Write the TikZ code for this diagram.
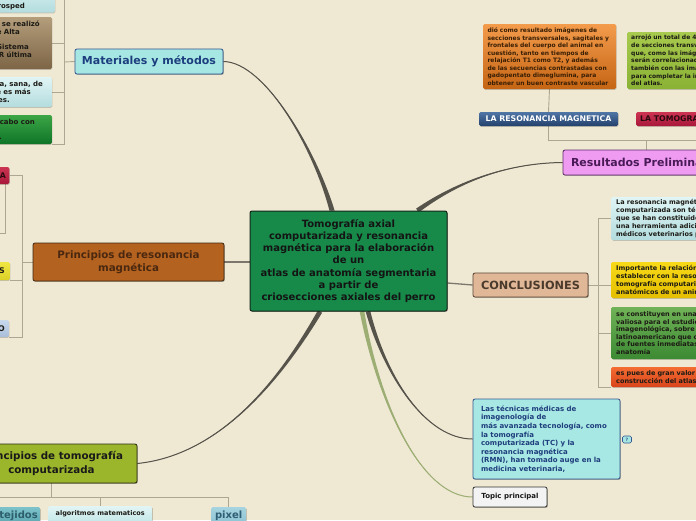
\documentclass[tikz,border=0pt]{standalone}
\usepackage{fontspec}
\setmainfont{DejaVu Sans}
\usetikzlibrary{shadows,calc,backgrounds}
\definecolor{bg}{HTML}{EFE8D3}
\definecolor{cn}{HTML}{56534B}
\definecolor{cnG}{HTML}{9CAE74}
\definecolor{brkC}{HTML}{ADA692}
\definecolor{lnkC}{HTML}{7B776C}
\definecolor{cenF}{HTML}{178A4A}
\definecolor{cenB}{HTML}{14251A}
\definecolor{matF}{HTML}{A7E7E3}
\definecolor{matB}{HTML}{2E538C}
\definecolor{matT}{HTML}{1D3E7E}
\definecolor{prmF}{HTML}{B4621F}
\definecolor{prmB}{HTML}{3D2812}
\definecolor{prmT}{HTML}{4A2810}
\definecolor{ptcF}{HTML}{9BB62B}
\definecolor{ptcB}{HTML}{2B2B12}
\definecolor{resF}{HTML}{EE9BF1}
\definecolor{resB}{HTML}{5C2A68}
\definecolor{resT}{HTML}{4A1A57}
\definecolor{conF}{HTML}{E1B897}
\definecolor{conB}{HTML}{5A4534}
\definecolor{conT}{HTML}{4A3A2C}
\definecolor{tecF}{HTML}{A8E8E4}
\definecolor{tecB}{HTML}{35568E}
\definecolor{tecT}{HTML}{1E3D7C}
\definecolor{topF}{HTML}{F3F3F3}
\definecolor{topB}{HTML}{333333}
\definecolor{orT}{HTML}{F39C4C}
\definecolor{orB}{HTML}{C56514}
\definecolor{orX}{HTML}{3A1F05}
\definecolor{grT}{HTML}{A8CA4E}
\definecolor{grB}{HTML}{8AB234}
\definecolor{lrT}{HTML}{5076A6}
\definecolor{lrB}{HTML}{23406C}
\definecolor{crT}{HTML}{CC3452}
\definecolor{crB}{HTML}{A8183A}
\definecolor{crX}{HTML}{2A0A10}
\definecolor{cyT}{HTML}{E0F5F5}
\definecolor{cyB}{HTML}{B3DCDE}
\definecolor{yeT}{HTML}{F8DA18}
\definecolor{yeB}{HTML}{E4BE00}
\definecolor{gnT}{HTML}{70B257}
\definecolor{gnB}{HTML}{3C8A33}
\definecolor{rdT}{HTML}{F46C32}
\definecolor{rdB}{HTML}{D8441A}
\definecolor{bnT}{HTML}{B39D7B}
\definecolor{bnB}{HTML}{7D6545}
\definecolor{lgT}{HTML}{3CA545}
\definecolor{lgB}{HTML}{0E7528}
\definecolor{ysT}{HTML}{F0E642}
\definecolor{ysB}{HTML}{DCD028}
\definecolor{boT}{HTML}{C8D9EC}
\definecolor{boB}{HTML}{A8BDD9}
\definecolor{tjT}{HTML}{7CC2CA}
\definecolor{tjB}{HTML}{5AA6B0}
\definecolor{tjX}{HTML}{2D5E6C}
\definecolor{pxT}{HTML}{A6D4E0}
\definecolor{pxB}{HTML}{8CC2D2}
\definecolor{pxX}{HTML}{2E5E74}
\definecolor{alT}{HTML}{E2F5F5}
\definecolor{alB}{HTML}{C4E7E8}
\definecolor{dk}{HTML}{1C1A14}
\newcommand{\fz}[2]{\fontsize{#1}{#2}\selectfont\bfseries}
\newcommand{\rpad}[1]{\hspace*{#1}\mbox{}}
\tikzset{
  box/.style={rounded corners=2pt, inner sep=0pt, line width=0.8pt,
    drop shadow={shadow xshift=0.8pt, shadow yshift=-0.9pt, opacity=0.28, fill=black}},
  sbox/.style={rounded corners=1.5pt, inner sep=0pt,
    drop shadow={shadow xshift=0.6pt, shadow yshift=-0.8pt, opacity=0.18, fill=black}},
  brk/.style={draw=brkC, line width=0.9pt},
  lnk/.style={draw=lnkC, line width=1.3pt},
}
\begin{document}
\begin{tikzpicture}[x=1pt,y=-1pt]
\useasboundingbox (0,0) rectangle (696,520);

% ---------- main nodes ----------
\node[box, draw=cenB, fill=cenF, line width=1pt, minimum width=197pt, minimum height=100pt,
  align=center, font={\fz{10}{12.2}}, text=black!92] (central) at (348.5,261)
  {Tomografía axial\\computarizada y resonancia\\magnética para la elaboración\hspace*{5pt}\\de un\\atlas de anatomía segmentaria\\a partir de\\criosecciones axiales del perro};

\node[box, draw=matB, fill=matF, text=matT, minimum width=148pt, minimum height=25pt,
  font={\fz{11}{13}}] (mat) at (149,61.5) {Materiales y métodos};

\node[box, draw=prmB, fill=prmF, text=prmT, minimum width=191pt, minimum height=38pt,
  align=center, font={\fz{10.3}{13.3}}] (prm) at (128.5,262) {Principios de resonancia\\magnética};

\node[box, draw=ptcB, fill=ptcF, text=black!90, minimum width=171pt, minimum height=39pt,
  align=center, font={\fz{10.3}{14}}] (ptc) at (51.5,463.5) {Principios de tomografía\\computarizada};

\node[box, draw=resB, fill=resF, text=resT, minimum width=167pt, minimum height=25pt,
  font={\fz{11}{13}}] (resP) at (646.5,162.5) {Resultados Preliminares};

\node[box, draw=conB, fill=conF, text=conT, minimum width=115pt, minimum height=24pt,
  font={\fz{11.3}{13}}] (conc) at (530.5,285) {CONCLUSIONES};

\node[box, draw=tecB, fill=tecF, text=tecT, minimum width=147pt, minimum height=80pt,
  align=left, text width=131pt, font={\fz{7}{8.6}}] (tec) at (546.5,439)
  {Las técnicas médicas de\\imagenología de\\más avanzada tecnología, como\\la tomografía\\computarizada (TC) y la\\resonancia magnética\\(RMN), han tomado auge en la\\medicina veterinaria,};

\node[draw=tecB, fill=tecF, rounded corners=1.5pt, line width=0.6pt, minimum width=9pt,
  minimum height=7pt, inner sep=0pt, font={\fz{4.5}{5}}, text=tecB] (ico) at (627,439.5) {?};

\node[box, draw=topB, fill=topF, minimum width=74pt, minimum height=20pt,
  font={\fz{7}{8}}, text=black!90] (topP) at (510,497) {Topic principal};

% ---------- Resultados children ----------
\node[sbox, top color=orT, bottom color=orB, minimum width=133pt, minimum height=65pt,
  text width=124pt, align=left, font={\fz{6}{7.5}}, text=orX] (orng) at (549.5,56.5)
  {dió como resultado imágenes de\\secciones transversales, sagitales y\\frontales del cuerpo del animal en\\cuestión, tanto en tiempos de\\relajación T1 como T2, y además\\de las secuencias contrastadas con\\gadopentato dimeglumina, para\\obtener un buen contraste vascular};

\node[sbox, top color=grT, bottom color=grB, anchor=west, minimum height=57pt,
  inner xsep=4pt, text width=140pt, align=left, font={\fz{6}{7.67}}, text=dk] (grnR) at (627,60.5)
  {arrojó un total de 4\\de secciones transv\\que, como las imág\\serán correlacionad\\también con las ima\\para completar la in\\del atlas.};

\node[sbox, top color=lrT, bottom color=lrB, minimum width=139pt, minimum height=14pt,
  text=white, font={\fz{7.8}{9}}] (laRes) at (548.5,119) {LA RESONANCIA MAGNETICA};

\node[sbox, top color=crT, bottom color=crB, anchor=west, minimum height=14pt,
  inner xsep=4pt, text width=100pt, align=left, text=crX, font={\fz{7.8}{9}}] (laTom) at (636,119) {LA TOMOGRA};

% ---------- Conclusiones children ----------
\node[sbox, top color=cyT, bottom color=cyB, anchor=west, minimum height=43pt,
  inner xsep=5pt, text width=130pt, align=left, font={\fz{6.5}{7.9}}, text=dk] (cyC) at (611,218.5)
  {La resonancia magnét\\computarizada son téc\\que se han constituido\\una herramienta adici\\médicos veterinarios p};

\node[sbox, top color=yeT, bottom color=yeB, anchor=west, minimum height=36pt,
  inner xsep=5pt, text width=130pt, align=left, font={\fz{6.5}{8.2}}, text=dk] (yeC) at (611,280)
  {Importante la relación\\establecer con la reso\\tomografía computariz\\anatómicos de un anim};

\node[sbox, top color=gnT, bottom color=gnB, anchor=west, minimum height=52pt,
  inner xsep=5pt, text width=130pt, align=left, font={\fz{6.5}{7.6}}, text=dk] (gnC) at (611,333)
  {se constituyen en una\\valiosa para el estudio\\imagenológica, sobre t\\latinoamericano que c\\de fuentes inmediatas\\anatomía};

\node[sbox, top color=rdT, bottom color=rdB, anchor=west, minimum height=20pt,
  inner xsep=5pt, text width=130pt, align=left, font={\fz{6.5}{8.6}}, text=dk] (rdC) at (611,377)
  {es pues de gran valor\\construcción del atlas.};

% ---------- Materiales children (cut at left edge) ----------
\node[sbox, top color=cyT, bottom color=cyB, anchor=south east, inner xsep=4pt, inner ysep=2.6pt,
  text width=100pt, align=right, font={\fz{7}{8.3}}, text=dk] (topc) at (55,12.7)
  {\mbox{}\\\mbox{}\\\mbox{}\\rosped\rpad{26pt}};

\node[sbox, top color=bnT, bottom color=bnB, anchor=east, minimum height=52pt, inner xsep=4pt,
  text width=100pt, align=right, font={\fz{7}{7.8}}, text=dk] (brn) at (52,43)
  {a se realizó\rpad{8pt}\\e Alta\rpad{28pt}\\\mbox{}\\Sistema\rpad{19pt}\\R última\rpad{16pt}\\\mbox{}};

\node[sbox, top color=cyT, bottom color=cyB, anchor=east, minimum height=30pt, inner xsep=4pt,
  text width=100pt, align=right, font={\fz{7}{8.3}}, text=dk] (cy2) at (52,92)
  {a, sana, de\rpad{5pt}\\e es más\rpad{17pt}\\es.\rpad{38pt}};

\node[sbox, top color=lgT, bottom color=lgB, anchor=east, minimum height=29pt, inner xsep=4pt,
  text width=100pt, align=right, font={\fz{7}{7.7}}, text=dk] (lg) at (52,129.5)
  {cabo con\rpad{13pt}\\\mbox{}\\.\rpad{46pt}};

% ---------- Principios RM children ----------
\node[sbox, top color=crT, bottom color=crB, anchor=east, minimum height=17pt, inner xsep=3.5pt,
  text width=50pt, align=right, font={\fz{7.8}{9}}, text=crX] (redA) at (9.5,175.5) {A};
\node[sbox, top color=ysT, bottom color=ysB, anchor=east, minimum height=18pt, inner xsep=5pt,
  text width=50pt, align=right, font={\fz{7.8}{9}}, text=dk] (yelS) at (10,271) {S};
\node[sbox, top color=boT, bottom color=boB, anchor=east, minimum height=17pt, inner xsep=4pt,
  text width=50pt, align=right, font={\fz{7.8}{9}}, text=dk] (bluO) at (9,328.5) {O};

% ---------- Principios TC children ----------
\node[sbox, top color=tjT, bottom color=tjB, anchor=north east, minimum height=18pt, inner xsep=2.5pt,
  font={\fz{10}{12}}, text=tjX] (tej) at (40.5,507) {tejidos};
\node[sbox, top color=alT, bottom color=alB, anchor=north west, minimum width=104pt, minimum height=16pt,
  font={\fz{6.5}{8}}, text=dk] (alg) at (48,506) {algoritmos matematicos};
\node[sbox, top color=pxT, bottom color=pxB, anchor=north west, minimum width=35pt, minimum height=18pt,
  font={\fz{10}{12}}, text=pxX] (pix) at (211,507) {pixel};

% ---------- connectors on background ----------
\begin{pgfonlayer}{background}
\fill[bg] (0,0) rectangle (696,520);

% brackets
\coordinate (bM) at (64.5,62);
\draw[brk] (mat.west) -- (bM);
\draw[brk] (topc.east) -| (bM);
\draw[brk] (brn.east) -| (bM);
\draw[brk] (cy2.east) -| (bM);
\draw[brk] (lg.south east) -| (bM);

\coordinate (bL) at (22,262);
\draw[brk] (prm.west) -- (bL);
\draw[brk] (redA.east) -| (bL);
\draw[brk] (yelS.south east) -| (bL);
\draw[brk] (bluO.south east) -| (bL);
\draw[brk] ([xshift=-4.5pt]redA.south east) -- ++(0,49) -- ++(-12,0);

\coordinate (hT) at (-5,497);
\draw[brk] (ptc.south) -- (ptc.south |- hT);
\draw[brk] (hT) -| (pix.north);
\draw[brk] (alg.north) -- (alg.north |- hT);

\coordinate (hR) at (720,140);
\draw[brk] (orng.south) -- (laRes.north);
\draw[brk] (laRes.south) |- (hR);
\draw[brk] (resP.north) -- (resP.north |- hR);

\coordinate (bC) at (598,285);
\draw[brk] (conc.east) -- (conc.east -| yeC.west);
\draw[brk] (cyC.west) -| (bC);
\draw[brk] (gnC.west) -| (bC);
\draw[brk] (rdC.south west) -| (bC);

% straight links
\draw[lnk] (prm.east) -- (central.west |- prm.east);
\draw[lnk] ([yshift=-22pt]central.east) -- (conc.west);

% tapered curves
\coordinate (mS) at ([xshift=-16.5pt]central.north);
\coordinate (m1) at (315,150); \coordinate (m2) at (265,62);
\fill[cn] ($(mS)+(-2.6,0)$) .. controls ($(m1)+(-1.2,0)$) and (m2) .. (mat.east)
  .. controls (m2) and ($(m1)+(1.2,0)$) .. ($(mS)+(2.6,0)$) -- cycle;
\draw[cn, line width=1pt] (mS) .. controls (m1) and (m2) .. (mat.east);

\coordinate (rS) at ([xshift=-30pt]central.north east);
\coordinate (r1) at (460,180); \coordinate (r2) at (510,163);
\fill[cn] ($(rS)+(-1.35,-1.87)$) .. controls ($(r1)+(-0.6,-0.8)$) and (r2) .. (resP.west)
  .. controls (r2) and ($(r1)+(0.6,0.8)$) .. ($(rS)+(1.35,1.87)$) -- cycle;
\draw[cn, line width=1pt] (rS) .. controls (r1) and (r2) .. (resP.west);

\coordinate (tS) at ([xshift=-28.5pt]central.south);
\coordinate (t1) at (280,380); \coordinate (t2) at (220,455);
\fill[cn] ($(tS)+(-2.08,-1.2)$) .. controls ($(t1)+(-0.9,-0.5)$) and (t2) .. (ptc.east)
  .. controls (t2) and ($(t1)+(0.9,0.5)$) .. ($(tS)+(2.08,1.2)$) -- cycle;
\draw[cn, line width=1pt] (tS) .. controls (t1) and (t2) .. (ptc.east);

\coordinate (gS) at ([xshift=13.5pt]central.south);
\coordinate (g1) at (378,400); \coordinate (g2) at (420,497);
\fill[cnG] ($(gS)+(-2.26,0.41)$) .. controls ($(g1)+(-1,0.2)$) and (g2) .. (topP.west)
  .. controls (g2) and ($(g1)+(1,-0.2)$) .. ($(gS)+(2.26,-0.41)$) -- cycle;
\draw[cnG, line width=1pt] (gS) .. controls (g1) and (g2) .. (topP.west);

\coordinate (cS) at ([xshift=19.5pt]central.south);
\coordinate (c1) at (385,375); \coordinate (c2) at (425,439);
\fill[cn] ($(cS)+(-2.22,0.59)$) .. controls ($(c1)+(-1,0.25)$) and (c2) .. (tec.west)
  .. controls (c2) and ($(c1)+(1,-0.25)$) .. ($(cS)+(2.22,-0.59)$) -- cycle;
\draw[cn, line width=1pt] (cS) .. controls (c1) and (c2) .. (tec.west);
\end{pgfonlayer}
\end{tikzpicture}
\end{document}
